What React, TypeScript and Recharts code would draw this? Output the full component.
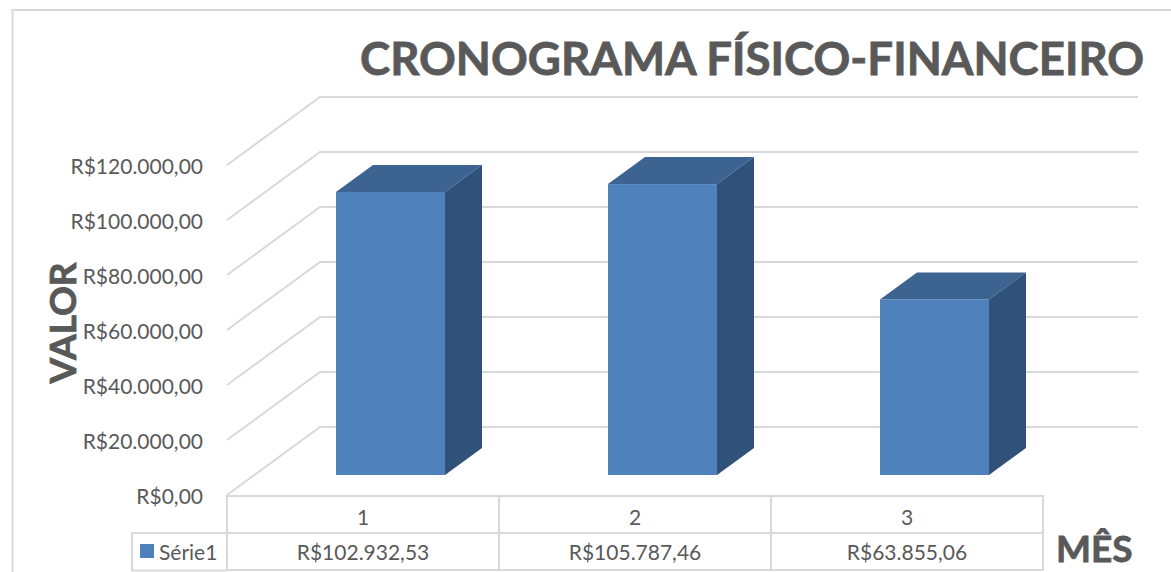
import React from "react";
import { BarChart, Bar, XAxis, YAxis, CartesianGrid } from "recharts";

const categories = ["1", "2", "3"];
const seriesValues = [102932.53, 105787.46, 63855.06];
const valueLabels = ["R$102.932,53", "R$105.787,46", "R$63.855,06"];
const yTicks = [0, 20000, 40000, 60000, 80000, 100000, 120000];
const yTickLabels = ["R$0,00", "R$20.000,00", "R$40.000,00", "R$60.000,00", "R$80.000,00", "R$100.000,00", "R$120.000,00"];
const seriesName = "Série1";
const titleText = "CRONOGRAMA FÍSICO-FINANCEIRO";

const rows = categories.map((c, i) => ({ category: c, value: seriesValues[i] }));

const FONT = "Lato, Carlito, sans-serif";
const TEXT = "#595959";
const GRID = "#d9d9d9";
const FRONT = "#4f81bd";
const TOP = "#3d6391";
const SIDE = "#30527a";
const DX = 93;
const DY = 68;
const BAR_DX = 37;
const BAR_DY = 27;

function Bar3D(props: any) {
  const { x, y, width, height } = props;
  const l = x + 27;
  const r = l + width;
  const t = y - 20;
  const b = t + height;
  return (
    <g>
      <polygon points={`${l},${t} ${r},${t} ${r + BAR_DX},${t - BAR_DY} ${l + BAR_DX},${t - BAR_DY}`} fill={TOP} />
      <polygon points={`${r},${t} ${r + BAR_DX},${t - BAR_DY} ${r + BAR_DX},${b - BAR_DY} ${r},${b}`} fill={SIDE} />
      <rect x={l} y={t} width={width} height={height} fill={FRONT} />
    </g>
  );
}

function gridLine(props: any) {
  const { x1, y1, x2, key } = props;
  return (
    <polyline
      key={key ?? y1}
      points={`${x1},${y1} ${x1 + DX},${y1 - DY} ${x2 + 95},${y1 - DY}`}
      fill="none"
      stroke={GRID}
      strokeWidth={2}
    />
  );
}

function CategoryTick(props: any) {
  const { x, y, payload, index } = props;
  const half = 136;
  return (
    <g>
      <line x1={x - half} y1={y + 1} x2={x + half} y2={y + 1} stroke={GRID} strokeWidth={2} />
      <line x1={x - half} y1={y + 38} x2={x + half} y2={y + 38} stroke={GRID} strokeWidth={2} />
      <line x1={x - half} y1={y + 75} x2={x + half} y2={y + 75} stroke={GRID} strokeWidth={2} />
      <line x1={x - half} y1={y} x2={x - half} y2={y + 76} stroke={GRID} strokeWidth={2} />
      <line x1={x + half} y1={y} x2={x + half} y2={y + 76} stroke={GRID} strokeWidth={2} />
      <text x={x} y={y + 30} textAnchor="middle" fontFamily={FONT} fontSize={21} fill={TEXT}>
        {payload.value}
      </text>
      <text x={x} y={y + 65} textAnchor="middle" fontFamily={FONT} fontSize={21} fill={TEXT}>
        {valueLabels[index]}
      </text>
    </g>
  );
}

export default function App() {
  return (
    <div style={{ position: "absolute", left: 0, top: 0, width: 1171, height: 572, background: "#fff" }}>
      <BarChart
        width={1171}
        height={572}
        data={rows}
        margin={{ top: 165, right: 128, bottom: 0, left: 0 }}
        barCategoryGap={0}
      >
        <path d="M12.5 572 V10 H1171" fill="none" stroke={GRID} strokeWidth={2} />
        <CartesianGrid vertical={false} horizontal={gridLine as any} />
        <YAxis
          width={227}
          domain={[0, 120000]}
          ticks={yTicks}
          interval={0}
          axisLine={false}
          tickLine={false}
          tickSize={0}
          tickMargin={24}
          tickFormatter={(v: number) => yTickLabels[yTicks.indexOf(v)]}
          tick={{ fontFamily: FONT, fontSize: 21, fill: TEXT, dy: 2 }}
        />
        <XAxis
          dataKey="category"
          height={77}
          axisLine={false}
          tickLine={false}
          tickSize={0}
          tickMargin={0}
          tick={CategoryTick as any}
        />
        <Bar dataKey="value" name={seriesName} barSize={109} shape={Bar3D as any} isAnimationActive={false} />
        <text x={360} y={75} fontFamily={FONT} fontWeight={700} fontSize={45.6} fill={TEXT} stroke={TEXT} strokeWidth={0.8}>
          {titleText}
        </text>
        <text
          transform="translate(76,323) rotate(-90)"
          textAnchor="middle"
          fontFamily={FONT}
          fontWeight={700}
          fontSize={37}
          fill={TEXT}
          stroke={TEXT}
          strokeWidth={0.8}
        >
          VALOR
        </text>
        <text x={1056} y={562} fontFamily={FONT} fontWeight={700} fontSize={37} fill={TEXT} stroke={TEXT} strokeWidth={0.8}>
          MÊS
        </text>
        <path d="M227 533 H132 V570.5 H227" fill="none" stroke={GRID} strokeWidth={2} />
        <rect x={140} y={544} width={14} height={14} fill={FRONT} />
        <text x={159} y={560} fontFamily={FONT} fontSize={21} fill={TEXT}>
          {seriesName}
        </text>
      </BarChart>
    </div>
  );
}
